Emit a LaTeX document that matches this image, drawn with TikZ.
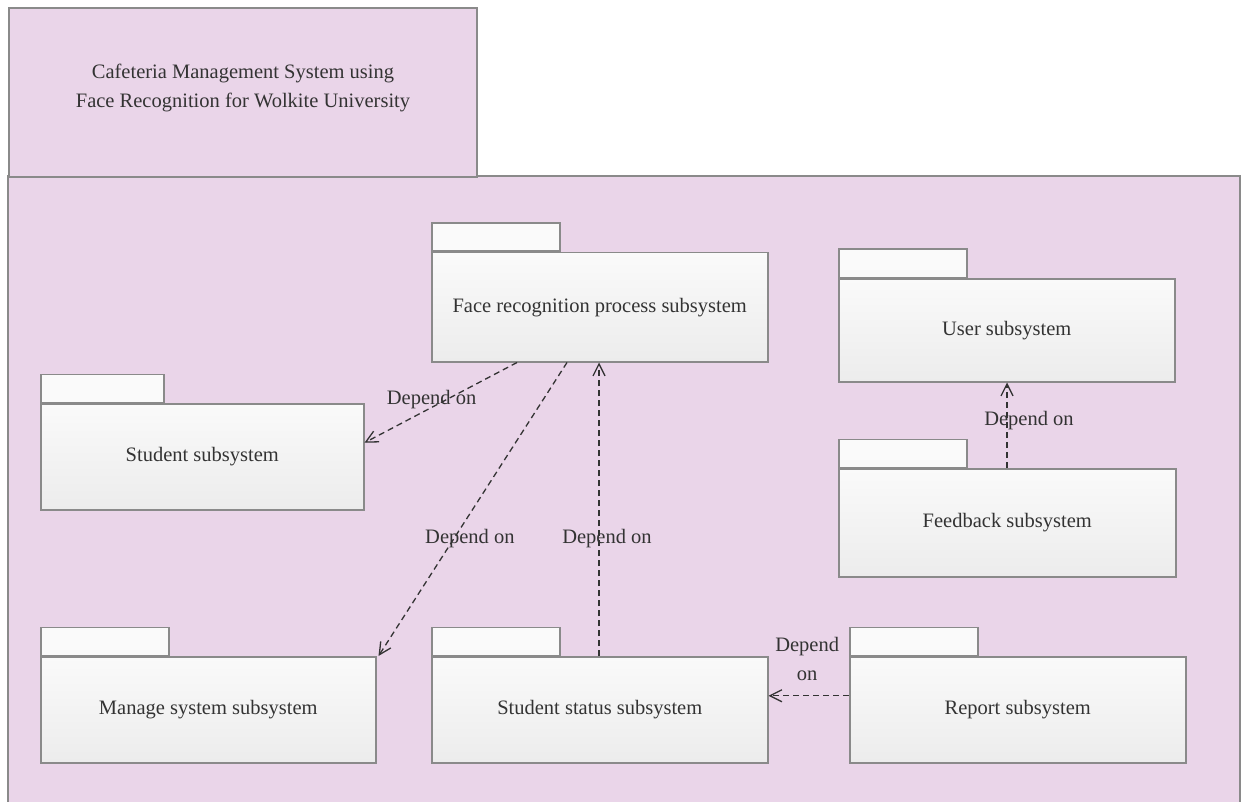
\documentclass[tikz,border=0pt]{standalone}
\usepackage{fontspec}
\setmainfont{Liberation Serif}
\usetikzlibrary{arrows.meta,shadows}
\definecolor{pkgpink}{HTML}{EAD5E9}
\definecolor{pkgline}{HTML}{8A8A8A}
\definecolor{txt}{HTML}{333333}
\definecolor{boxtop}{HTML}{FAFAFA}
\definecolor{boxbot}{HTML}{ECECEC}

\begin{document}
\begin{tikzpicture}[x=1pt,y=-1pt,
  font=\fontsize{20.5}{29}\selectfont, text=txt,
  pkgbody/.style={draw=pkgline, line width=1.5pt, top color=boxtop, bottom color=boxbot,
    minimum height=106pt, anchor=north west, inner sep=0pt, align=center,
    drop shadow={shadow xshift=1.5pt, shadow yshift=-1.5pt, opacity=0.25, fill=black}},
  pkgtab/.style={draw=pkgline, line width=1.5pt, fill=boxtop, minimum width=128pt,
    minimum height=28pt, anchor=south west, inner sep=0pt},
  dep/.style={draw=txt, line width=1.3pt, dash pattern=on 6pt off 4pt,
    -{Straight Barb[length=12pt,width=12pt]}},
  lbl/.style={inner sep=0pt, align=center, text=txt}
]
\useasboundingbox (0,0) rectangle (1241,802);
\clip (0,0) rectangle (1241,802);

% enclosing system package
\filldraw[draw=pkgline, line width=2pt, fill=pkgpink]
  (8,820) -- (8,176) -- (1240,176) -- (1240,820);
\node[draw=pkgline, line width=2pt, fill=pkgpink, anchor=north west,
  minimum width=468pt, minimum height=169pt, inner sep=0pt] (title) at (8,7) {};
\node[lbl, yshift=5pt] (titletext) at (title.center)
  {Cafeteria Management System using\\Face Recognition for Wolkite University};

% subsystem packages
\node[pkgbody, minimum width=336pt, minimum height=109pt] (face) at (431,252) {Face recognition process subsystem};
\node[pkgtab] (facetab) at (face.north west) {};

\node[pkgbody, minimum width=323pt] (student) at (40,403) {Student subsystem};
\node[pkgtab, minimum width=123pt] (studenttab) at (student.north west) {};

\node[pkgbody, minimum width=336pt, minimum height=103pt] (user) at (838,278) {User subsystem};
\node[pkgtab] (usertab) at (user.north west) {};

\node[pkgbody, minimum width=337pt, minimum height=108pt] (feedback) at (838,468) {Feedback subsystem};
\node[pkgtab] (feedbacktab) at (feedback.north west) {};

\node[pkgbody, minimum width=335pt] (manage) at (40,656) {Manage system subsystem};
\node[pkgtab] (managetab) at (manage.north west) {};

\node[pkgbody, minimum width=336pt] (status) at (431,656) {Student status subsystem};
\node[pkgtab] (statustab) at (status.north west) {};

\node[pkgbody, minimum width=336pt] (report) at (849,656) {Report subsystem};
\node[pkgtab] (reporttab) at (report.north west) {};

% dependencies
\draw[dep] ([xshift=86pt]face.south west) -- ([yshift=14pt]student.east)
  node[lbl, pos=0.56, yshift=8pt] {Depend on};
\draw[dep] ([xshift=136pt]face.south west) -- ([xshift=2pt]manage.north east)
  node[lbl, pos=0.6, xshift=16pt] {Depend on};
\draw[dep] ([xshift=168pt]status.north west) -- ([xshift=168pt]face.south west)
  node[lbl, pos=0.4, xshift=8pt] {Depend on};
\draw[dep] ([xshift=169pt]feedback.north west) -- ([xshift=169pt]user.south west)
  node[lbl, pos=0.55, xshift=22pt] {Depend on};
\draw[dep] ([yshift=14pt]report.west) -- ([yshift=14pt]status.east)
  node[lbl, pos=0.52, yshift=37pt] {Depend\\on};
\end{tikzpicture}
\end{document}
